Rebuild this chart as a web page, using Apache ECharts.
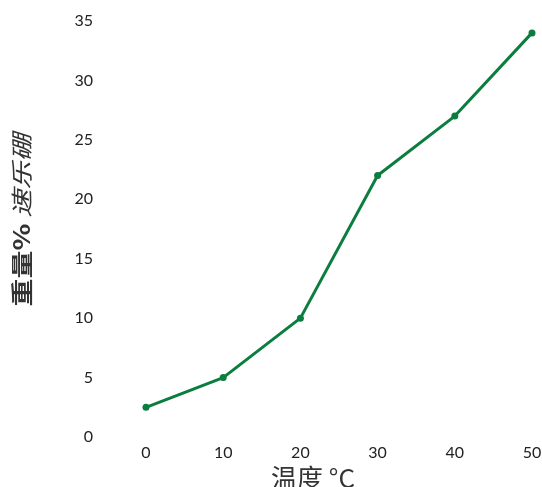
<!DOCTYPE html>
<html><head><meta charset="utf-8">
<script src="https://cdn.jsdelivr.net/npm/echarts@6/dist/echarts.min.js"></script>
<style>html,body{margin:0;padding:0;background:#fff}#c{width:542px;height:487px}</style>
</head><body><div id="c"></div>
<script>
const temperatures = [0, 10, 20, 30, 40, 50];
const weightPercent = [2.5, 5, 10, 22, 27, 34];
const yTicks = [0, 5, 10, 15, 20, 25, 30, 35];
const xTicks = [0, 10, 20, 30, 40, 50];
const xTitle = '温度 °C';
const yTitleBold = '重量%';
const yTitleItalic = '速乐硼';

const chart = echarts.init(document.getElementById('c'), null, {renderer: 'canvas'});
chart.setOption({
  animation: false,
  backgroundColor: '#fff',
  grid: {left: 146, right: 10, top: 21, bottom: 50, containLabel: false, outerBoundsMode: 'none'},
  xAxis: {
    type: 'value', min: xTicks[0], max: xTicks[xTicks.length - 1], interval: 10,
    axisLine: {show: false}, axisTick: {show: false}, splitLine: {show: false},
    axisLabel: {margin: 8, fontSize: 16, color: '#222', fontFamily: 'Lato'},
    name: xTitle, nameLocation: 'middle', nameGap: 28, nameMoveOverlap: false,
    nameTextStyle: {fontSize: 26, color: '#333', fontFamily: 'Noto Sans CJK SC', padding: [0, 52, 0, 0]}
  },
  yAxis: {
    type: 'value', min: yTicks[0], max: yTicks[yTicks.length - 1], interval: 5,
    axisLine: {show: false}, axisTick: {show: false}, splitLine: {show: false},
    axisLabel: {margin: 53, fontSize: 16, color: '#222', fontFamily: 'Lato'}
  },
  graphic: [{
    type: 'text',
    x: 22, y: 220,
    rotation: Math.PI / 2,
    scaleX: 1.27,
    style: {
      text: '{b|' + yTitleBold + '} {i|' + yTitleItalic + '}',
      align: 'center', verticalAlign: 'middle',
      fill: '#333', fontSize: 22, fontFamily: 'Noto Sans CJK SC',
      rich: {
        b: {fontSize: 22, fontWeight: 'bold', fill: '#333', fontFamily: 'Noto Sans CJK SC'},
        i: {fontSize: 22, fontStyle: 'italic', fill: '#333', fontFamily: 'Noto Sans CJK SC'}
      }
    }
  }],
  series: [{
    type: 'line',
    data: temperatures.map((t, i) => [t, weightPercent[i]]),
    symbol: 'circle', symbolSize: 7,
    lineStyle: {color: '#0b7d3e', width: 3},
    itemStyle: {color: '#0b7d3e'}
  }]
});
</script></body></html>
